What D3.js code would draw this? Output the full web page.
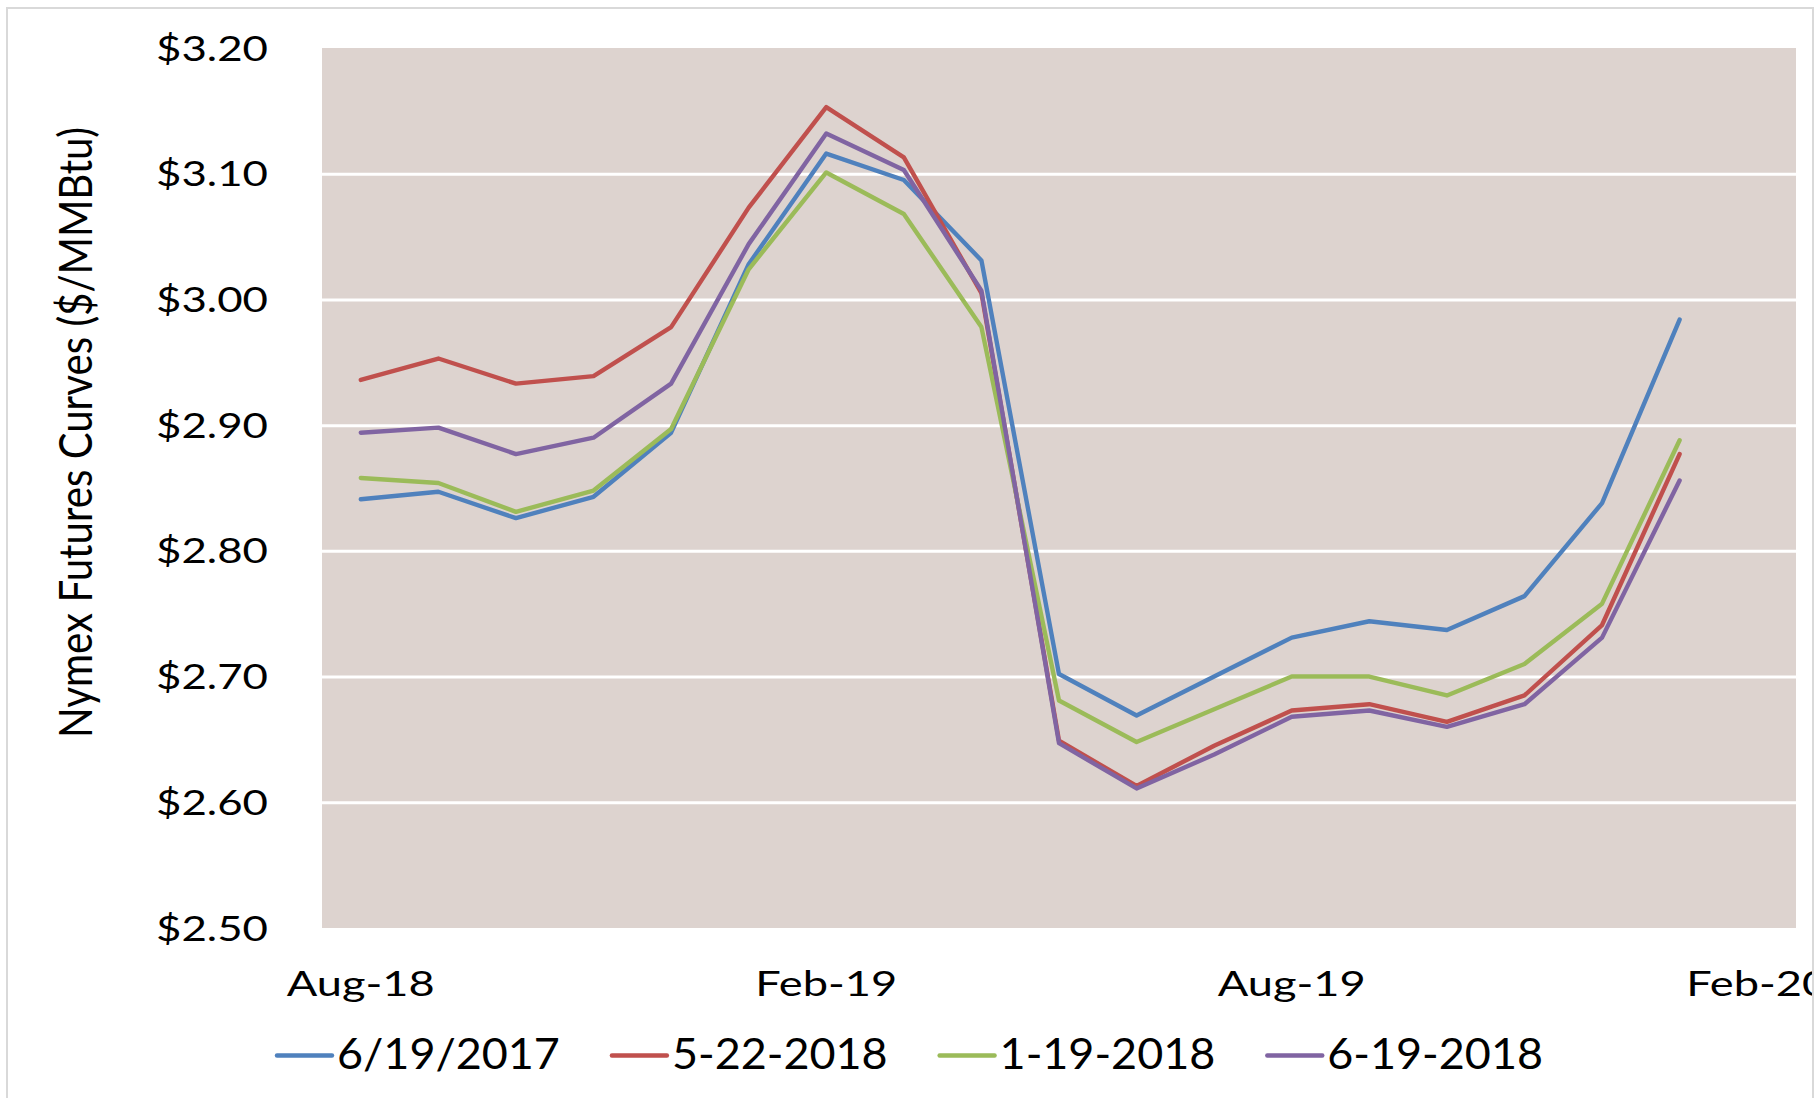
<!DOCTYPE html>
<html>
<head>
<meta charset="utf-8">
<script src="https://cdn.jsdelivr.net/npm/d3@7"></script>
<style>
  body { margin: 0; background: #fff; }
  svg { display: block; font-family: Lato, "Noto Sans", sans-serif; }
</style>
</head>
<body>
<div id="chart"></div>
<script>
// Contract months on the futures curve
const months = ["Aug-18", "Sep-18", "Oct-18", "Nov-18", "Dec-18", "Jan-19",
  "Feb-19", "Mar-19", "Apr-19", "May-19", "Jun-19", "Jul-19",
  "Aug-19", "Sep-19", "Oct-19", "Nov-19", "Dec-19", "Jan-20"];
const axisMonths = months.concat(["Feb-20"]);
const tickMonths = ["Aug-18", "Feb-19", "Aug-19", "Feb-20"];
const priceTicks = [2.5, 2.6, 2.7, 2.8, 2.9, 3.0, 3.1, 3.2];

const seriesNames = ["6/19/2017", "5-22-2018", "1-19-2018", "6-19-2018"];
const curve20170619 = [2.841, 2.847, 2.826, 2.843, 2.894, 3.028, 3.116, 3.095, 3.031,
  2.702, 2.669, 2.700, 2.731, 2.744, 2.737, 2.764, 2.838, 2.984];
const curve20180522 = [2.936, 2.953, 2.933, 2.939, 2.978, 3.073, 3.153, 3.113, 3.005,
  2.649, 2.613, 2.645, 2.673, 2.678, 2.664, 2.685, 2.741, 2.877];
const curve20180119 = [2.858, 2.854, 2.831, 2.848, 2.897, 3.024, 3.101, 3.068, 2.978,
  2.681, 2.648, 2.674, 2.700, 2.700, 2.685, 2.710, 2.758, 2.888];
const curve20180619 = [2.894, 2.898, 2.877, 2.890, 2.933, 3.044, 3.132, 3.103, 3.007,
  2.647, 2.611, 2.638, 2.668, 2.673, 2.660, 2.678, 2.731, 2.856];

const seriesColors = ["#4f81bd", "#c0504d", "#9bbb59", "#8064a2"];
const yTitle = "Nymex Futures Curves ($/MMBtu)";

const width = 1820;
const height = 1098;
const plot = { left: 322, right: 1796, top: 48, bottom: 928 };

const svg = d3
  .select("#chart")
  .append("svg")
  .attr("width", width)
  .attr("height", height);

// how much a label has to be widened to match the reference text width
const fitFactor = (fontSize, str, target) => {
  const t = svg.append("text").attr("font-size", fontSize).text(str);
  const len = t.node().getComputedTextLength();
  t.remove();
  return target / len;
};

// outer chart frame
svg
  .append("rect")
  .attr("x", 7)
  .attr("y", 8)
  .attr("width", 1806)
  .attr("height", 1100)
  .attr("fill", "#fff")
  .attr("stroke", "#d9d9d9")
  .attr("stroke-width", 2);

const x = d3.scaleBand().domain(axisMonths).range([plot.left, plot.right]);
const xc = (m) => x(m) + x.bandwidth() / 2;
const y = d3.scaleLinear().domain([2.5, 3.2]).range([plot.bottom, plot.top]);

// plot area
svg
  .append("rect")
  .attr("x", plot.left)
  .attr("y", plot.top)
  .attr("width", plot.right - plot.left)
  .attr("height", plot.bottom - plot.top)
  .attr("fill", "#ddd3cf");

// white gridlines
svg
  .append("g")
  .attr("transform", `translate(${plot.left},0)`)
  .call(
    d3
      .axisLeft(y)
      .tickValues(priceTicks.slice(1, -1))
      .tickSize(-(plot.right - plot.left))
      .tickFormat("")
  )
  .call((g) => g.select(".domain").remove())
  .call((g) => g.selectAll("line").attr("stroke", "#fff").attr("stroke-width", 3));

// y axis labels
const kY = fitFactor(35.5, "$3.20", 112);
svg
  .append("g")
  .attr("transform", "translate(268,0)")
  .call(
    d3
      .axisLeft(y)
      .tickValues(priceTicks)
      .tickSize(0)
      .tickPadding(0)
      .tickFormat(d3.format("$.2f"))
  )
  .attr("font-family", null)
  .attr("font-size", null)
  .call((g) => g.select(".domain").remove())
  .call((g) =>
    g
      .selectAll("text")
      .attr("x", 0)
      .attr("dy", null)
      .attr("y", 12)
      .attr("font-size", 35.5)
      .attr("fill", "#000")
      .attr("text-anchor", "end")
      .attr("transform", `scale(${kY},1)`)
  );

// x axis labels, the last one is cut by the chart frame
svg
  .append("clipPath")
  .attr("id", "frame-clip")
  .append("rect")
  .attr("x", 0)
  .attr("y", 0)
  .attr("width", 1812)
  .attr("height", height);

const kX = fitFactor(35.5, "Aug-18", 148);
svg
  .append("g")
  .attr("clip-path", "url(#frame-clip)")
  .append("g")
  .attr("transform", "translate(0,996)")
  .call(d3.axisBottom(x).tickValues(tickMonths).tickSize(0).tickPadding(0))
  .attr("font-family", null)
  .attr("font-size", null)
  .call((g) => g.select(".domain").remove())
  .call((g) =>
    g
      .selectAll("text")
      .attr("y", 0)
      .attr("dy", null)
      .attr("font-size", 35.5)
      .attr("fill", "#000")
      .attr("transform", `scale(${kX},1)`)
  );

// the four curves
const series = [curve20170619, curve20180522, curve20180119, curve20180619];
const line = d3
  .line()
  .x((d, i) => xc(months[i]))
  .y((d) => y(d));

svg
  .selectAll(".curve")
  .data(series)
  .join("path")
  .attr("class", "curve")
  .attr("fill", "none")
  .attr("stroke", (d, i) => seriesColors[i])
  .attr("stroke-width", 4.4)
  .attr("stroke-linejoin", "round")
  .attr("stroke-linecap", "round")
  .attr("d", line);

// y axis title
const kT = fitFactor(46.5, yTitle, 611);
svg
  .append("text")
  .attr("transform", `translate(92,432.5) rotate(-90) scale(${kT},1)`)
  .attr("text-anchor", "middle")
  .attr("font-size", 46.5)
  .attr("fill", "#000")
  .text(yTitle);

// legend
const kL = fitFactor(42, seriesNames[0], 223);
const legend = svg.append("g");
let lx = 277;
seriesNames.forEach((name, i) => {
  legend
    .append("line")
    .attr("x1", lx)
    .attr("x2", lx + 55)
    .attr("y1", 1055.5)
    .attr("y2", 1055.5)
    .attr("stroke", seriesColors[i])
    .attr("stroke-width", 4.4)
    .attr("stroke-linecap", "round");
  const t = legend
    .append("text")
    .attr("transform", `translate(${lx + 60},1069) scale(${kL},1)`)
    .attr("font-size", 42)
    .attr("fill", "#000")
    .text(name);
  lx += 60 + t.node().getComputedTextLength() * kL + 52;
});
</script>
</body>
</html>
